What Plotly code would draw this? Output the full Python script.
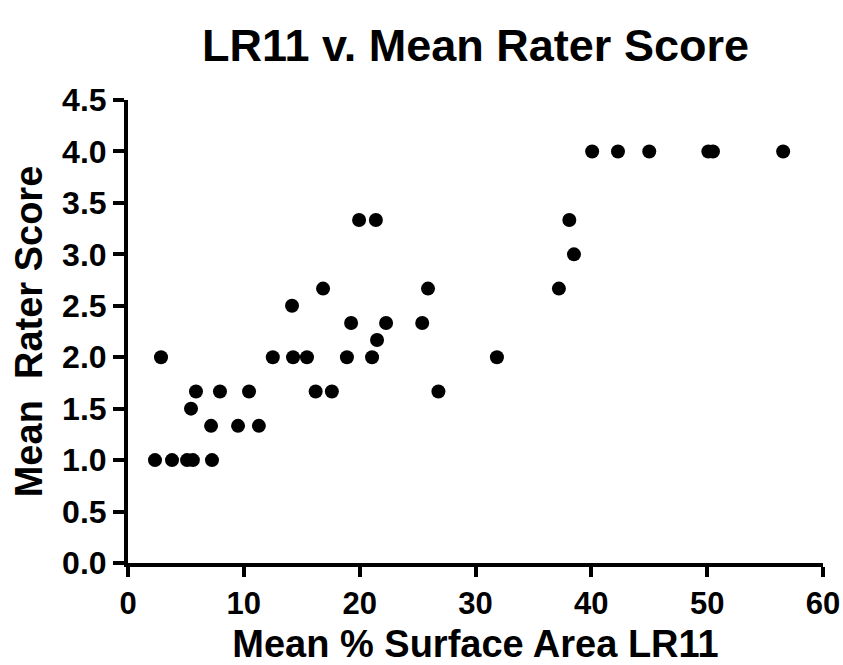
import plotly.graph_objects as go

# Mean % surface area LR11 (x) and mean rater score (y)
surface_area = [2.33, 3.8, 5.1, 5.6, 7.25,
                7.17, 9.5, 11.3,
                5.44,
                5.87, 7.94, 10.45, 16.2, 17.6, 26.8,
                2.85, 12.5, 14.25, 15.45, 18.9, 21.07, 31.85,
                21.5,
                19.26, 22.28, 25.4,
                14.16,
                16.84, 25.9, 37.2,
                38.5,
                19.95, 21.4, 38.1,
                40.07, 42.3, 45.0, 50.1, 50.5, 56.56]
rater_score = [1.0, 1.0, 1.0, 1.0, 1.0,
               1.333, 1.333, 1.333,
               1.5,
               1.667, 1.667, 1.667, 1.667, 1.667, 1.667,
               2.0, 2.0, 2.0, 2.0, 2.0, 2.0, 2.0,
               2.167,
               2.333, 2.333, 2.333,
               2.5,
               2.667, 2.667, 2.667,
               3.0,
               3.333, 3.333, 3.333,
               4.0, 4.0, 4.0, 4.0, 4.0, 4.0]

x_ticks = [0, 10, 20, 30, 40, 50, 60]
y_ticks = [0.0, 0.5, 1.0, 1.5, 2.0, 2.5, 3.0, 3.5, 4.0, 4.5]

FONT = "Liberation Sans, Arial, sans-serif"

fig = go.Figure(go.Scatter(
    x=surface_area, y=rater_score, mode="markers",
    marker=dict(color="black", size=14, line=dict(width=0)),
    cliponaxis=False, showlegend=False,
))

fig.update_layout(
    width=843, height=665,
    margin=dict(l=128, r=20, t=100, b=102),
    paper_bgcolor="white", plot_bgcolor="white",
    font=dict(family=FONT, color="black"),
    title=dict(text="<b>LR11 v. Mean Rater Score</b>", x=0.5, xref="paper",
               y=1 - 45 / 665, yanchor="middle",
               font=dict(size=45, family=FONT, color="black")),
)

fig.update_xaxes(
    range=[0, 60], tickvals=x_ticks, ticktext=[f"<b>{v}</b>" for v in x_ticks],
    showgrid=False, zeroline=False, showline=True, linecolor="black", linewidth=4,
    ticks="outside", ticklen=10, tickwidth=4, tickcolor="black",
    tickfont=dict(size=31, family=FONT, color="black"),
    automargin=False,
    title=dict(text="<b>Mean % Surface Area LR11</b>", standoff=16,
               font=dict(size=38, family=FONT, color="black")),
)
fig.update_yaxes(
    range=[0, 4.5], tickvals=y_ticks, ticktext=[f"<b>{v:.1f}</b>" for v in y_ticks],
    showgrid=False, zeroline=False, showline=True, linecolor="black", linewidth=4,
    ticks="outside", ticklen=11, tickwidth=4, tickcolor="black",
    tickfont=dict(size=32, family=FONT, color="black"),
    automargin=False,
    title=dict(text="<b>Mean\u00a0 Rater Score</b>", standoff=9,
               font=dict(size=38, family=FONT, color="black")),
)

fig.write_html("out.html")
